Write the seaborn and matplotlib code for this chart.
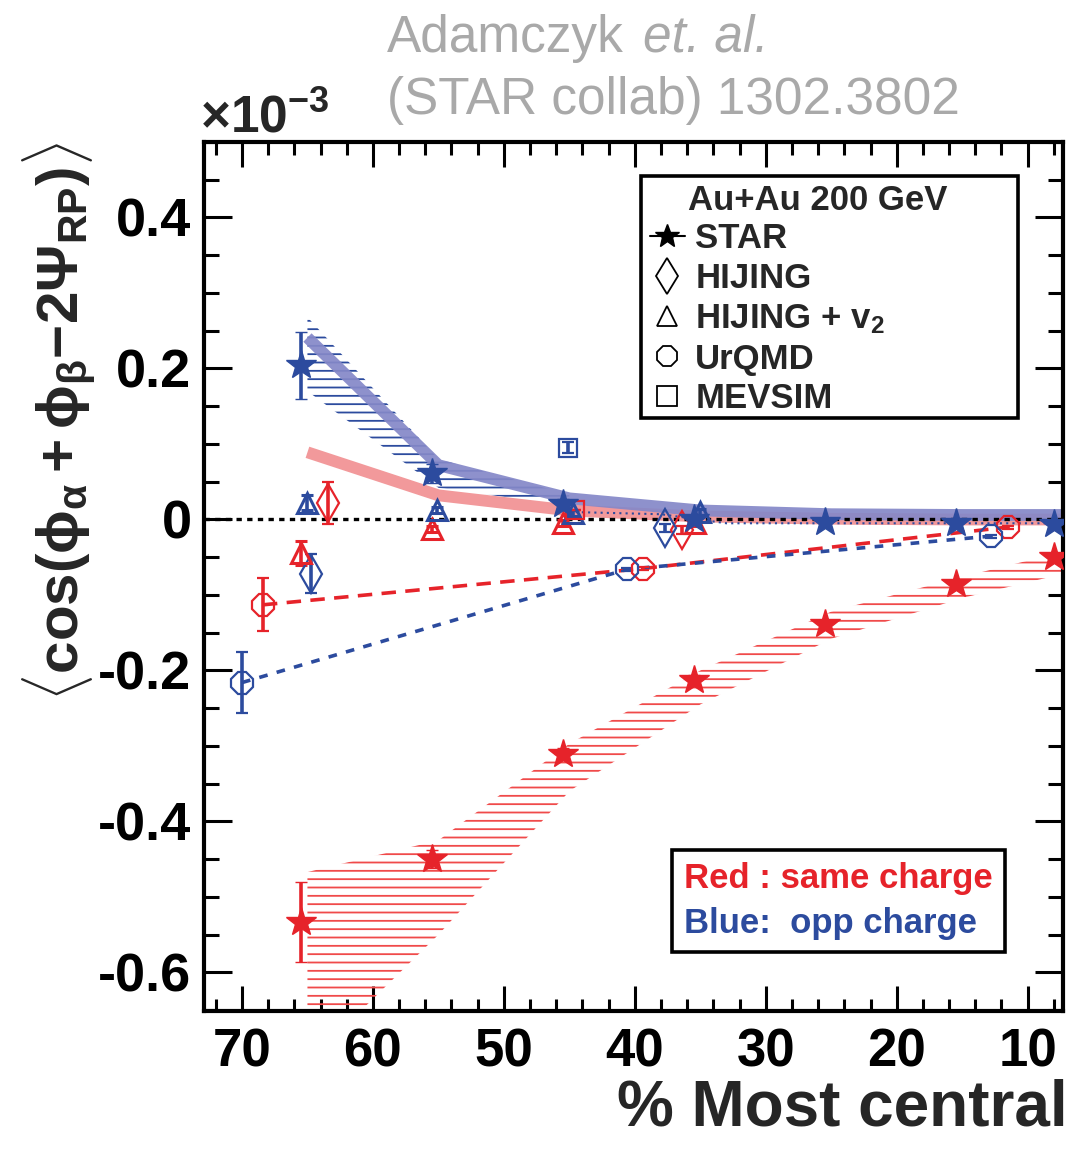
import numpy as np
import pandas as pd
import matplotlib
matplotlib.use("Agg")
import matplotlib.pyplot as plt
import seaborn as sns
from matplotlib.lines import Line2D
from matplotlib.patches import Rectangle
from matplotlib.ticker import MultipleLocator

# ---------------- data (values in units of 1e-3) ----------------
cent_star = [65.5, 55.5, 45.5, 35.5, 25.5, 15.5, 8.0]
star_same = [-0.533, -0.450, -0.311, -0.212, -0.139, -0.085, -0.050]
star_same_err = [0.053, 0.012, 0.008, 0.006, 0.005, 0.004, 0.004]
star_opp = [0.204, 0.061, 0.020, 0.000, -0.003, -0.005, -0.006]
star_opp_err = [0.044, 0.012, 0.007, 0.005, 0.004, 0.004, 0.004]

band_same_x = [65.0, 55.0, 45.0, 35.0, 25.0, 15.0, 7.3]
band_same_hi = [-0.467, -0.425, -0.297, -0.200, -0.122, -0.076, -0.043]
band_same_lo = [-0.720, -0.550, -0.360, -0.245, -0.158, -0.104, -0.072]

band_opp_x = [65.0, 55.0, 45.0]
band_opp_hi = [0.268, 0.080, 0.033]
band_opp_lo = [0.170, 0.042, 0.018]

thick_x = [65.0, 55.0, 45.0, 35.0, 25.0, 15.0, 7.3]
thick_opp = [0.241, 0.072, 0.028, 0.012, 0.007, 0.006, 0.006]
thick_same = [0.089, 0.032, 0.012, 0.004, 0.001, 0.000, 0.000]

dotted_opp_x = [45.0, 38.0, 33.0, 7.3]
dotted_opp_y = [0.010, 0.007, -0.005, -0.005]

urqmd_same_x = [68.4, 39.4, 11.5]
urqmd_same = [-0.113, -0.065, -0.010]
urqmd_same_err = [0.035, 0.002, 0.002]
urqmd_opp_x = [70.0, 40.6, 12.8]
urqmd_opp = [-0.216, -0.066, -0.022]
urqmd_opp_err = [0.040, 0.002, 0.002]

hij_same_x = [63.4, 36.4]
hij_same = [0.022, -0.014]
hij_same_err = [0.028, 0.005]
hij_opp_x = [64.7, 37.7]
hij_opp = [-0.072, -0.011]
hij_opp_err = [0.026, 0.005]

hv2_same_x = [65.5, 55.5, 45.5, 35.4]
hv2_same = [-0.044, -0.012, -0.005, -0.004]
hv2_same_err = [0.016, 0.004, 0.004, 0.004]
hv2_opp_x = [65.0, 55.1, 44.7, 35.0]
hv2_opp = [0.022, 0.012, 0.008, 0.010]
hv2_opp_err = [0.010, 0.004, 0.004, 0.004]

mev_same_x = [44.6]
mev_same = [0.012]
mev_opp_x = [45.1]
mev_opp = [0.095]
mev_opp_err = [0.007]

x_ticks = [70, 60, 50, 40, 30, 20, 10]
y_ticks = [-0.6, -0.4, -0.2, 0.0, 0.2, 0.4]
y_ticklabels = ["-0.6", "-0.4", "-0.2", "0", "0.2", "0.4"]

legend_title = "Au+Au 200 GeV"
legend_labels = ["STAR", "HIJING", "HIJING + v$_2$", "UrQMD", "MEVSIM"]
charge_labels = ["Red : same charge", "Blue:  opp charge"]

# ---------------- style ----------------
sns.set_theme(style="ticks")
plt.rcParams["font.family"] = ["Liberation Sans", "DejaVu Sans"]
plt.rcParams["font.weight"] = "bold"
plt.rcParams["mathtext.fontset"] = "custom"
plt.rcParams["mathtext.rm"] = "Liberation Sans:bold"
plt.rcParams["mathtext.it"] = "Liberation Sans:bold"
plt.rcParams["mathtext.bf"] = "Liberation Sans:bold"
plt.rcParams["mathtext.sf"] = "Liberation Sans:bold"
plt.rcParams["hatch.linewidth"] = 1.3

RED = "#e6232a"
BLUE = "#2c4b9e"
VIOLET = "#8588c8"
PINK = "#f2999b"

fig = plt.figure(figsize=(10.74, 11.52), dpi=100)
L, R, T, B = 204, 1063, 142, 1011
ax = fig.add_axes([L / 1074, 1 - B / 1152, (R - L) / 1074, (B - T) / 1152])
ax.set_facecolor("white")

def ax_x(px):
    return (px - L) / (R - L)

def ax_y(py):
    return (B - py) / (B - T)

# hatched systematic bands
ax.fill_between(band_same_x, band_same_lo, band_same_hi, facecolor="none",
                edgecolor="#f04a4a", hatch="--", linewidth=0, zorder=1)
ax.fill_between(band_opp_x, band_opp_lo, band_opp_hi, facecolor="none",
                edgecolor=BLUE, hatch="--", linewidth=0, zorder=1)

# thick bands
thick_df = pd.DataFrame({"x": thick_x, "opp": thick_opp, "same": thick_same})
sns.lineplot(data=thick_df, x="x", y="same", ax=ax, color=PINK, lw=8.5,
             sort=False, estimator=None, solid_capstyle="butt", zorder=2)
sns.lineplot(data=thick_df, x="x", y="opp", ax=ax, color=VIOLET, lw=8.5,
             alpha=0.92, sort=False, estimator=None, solid_capstyle="butt", zorder=2)

# zero line
ax.axhline(0, color="black", lw=2.4, ls=(0, (1.6, 1.6)), zorder=2.5)

# thin dotted blue line
sns.lineplot(x=dotted_opp_x, y=dotted_opp_y, ax=ax, color=BLUE, lw=1.5,
             ls=(0, (1, 2)), sort=False, estimator=None, zorder=2.6)

# UrQMD dashed lines
sns.lineplot(x=urqmd_same_x, y=urqmd_same, ax=ax, color=RED, lw=2.6,
             ls=(0, (4, 2.6)), sort=False, estimator=None, zorder=3)
sns.lineplot(x=urqmd_opp_x, y=urqmd_opp, ax=ax, color=BLUE, lw=2.6,
             ls=(0, (2.4, 2.6)), sort=False, estimator=None, zorder=3)

def pts(x, y, err, marker, color, ms, filled=False, mew=1.6, z=4):
    ax.errorbar(x, y, yerr=err, fmt=marker, ms=ms, color=color, ecolor=color,
                mfc=color if filled else "none", mec=color, mew=mew,
                elinewidth=2.6, capsize=4, capthick=2.6, zorder=z)

pts(urqmd_same_x, urqmd_same, urqmd_same_err, "8", RED, 16.5)
pts(urqmd_opp_x, urqmd_opp, urqmd_opp_err, "8", BLUE, 16.5)
pts(hij_same_x, hij_same, hij_same_err, "d", RED, 19)
pts(hij_opp_x, hij_opp, hij_opp_err, "d", BLUE, 19)
pts(hv2_same_x, hv2_same, hv2_same_err, "^", RED, 14.5, mew=2.2)
pts(hv2_opp_x, hv2_opp, hv2_opp_err, "^", BLUE, 14.5, mew=2.2)
pts(mev_same_x, mev_same, [0.0], "s", RED, 13)
pts(mev_opp_x, mev_opp, mev_opp_err, "s", BLUE, 13)
pts(cent_star, star_same, star_same_err, "*", RED, 22, filled=True, mew=1, z=5)
pts(cent_star, star_opp, star_opp_err, "*", BLUE, 22, filled=True, mew=1, z=5)

# axes
ax.set_xlim(72.9, 7.3)
ax.set_ylim(-0.651, 0.5)
ax.set_xticks(x_ticks)
ax.set_xticklabels([str(v) for v in x_ticks])
ax.set_yticks(y_ticks)
ax.set_yticklabels(y_ticklabels)
ax.xaxis.set_minor_locator(MultipleLocator(2))
ax.yaxis.set_minor_locator(MultipleLocator(0.05))
ax.tick_params(which="both", direction="in", top=True, right=True, width=2.2,
               colors="black")
ax.tick_params(axis="x", which="major", length=18, labelsize=38, pad=12)
ax.tick_params(axis="y", which="major", length=20, labelsize=39, pad=9)
ax.tick_params(axis="x", which="minor", length=9)
ax.tick_params(axis="y", which="minor", length=10.5)
for lab in ax.get_xticklabels() + ax.get_yticklabels():
    lab.set_fontweight("bold")
for s in ax.spines.values():
    s.set_linewidth(3)
    s.set_color("black")
    s.set_visible(True)

ax.set_xlabel("% Most central", fontsize=46, fontweight="bold", ha="right", va="top")
ax.xaxis.set_label_coords(ax_x(1068), ax_y(1078))
ax.set_ylabel(r"$\langle\cos(\phi_{\alpha}+\phi_{\beta}\mathrm{-}2\Psi_{RP})\rangle$",
              fontsize=42)
ax.yaxis.set_label_coords(ax_x(98), ax_y(422))

# legend 1: frame, title and entries
ax.add_patch(Rectangle((ax_x(641), ax_y(418)), ax_x(1018) - ax_x(641),
                       ax_y(176) - ax_y(418), transform=ax.transAxes,
                       facecolor="white", edgecolor="black", lw=2.6, zorder=6))
ax.text(ax_x(688), ax_y(200), legend_title, transform=ax.transAxes, fontsize=25,
        fontweight="bold", ha="left", va="center", zorder=7)
handles = [
    Line2D([], [], color="black", marker="*", ms=18, lw=1.5),
    Line2D([], [], color="black", marker="d", ms=18, mfc="none", mew=1.3, ls="none"),
    Line2D([], [], color="black", marker="^", ms=15, mfc="none", mew=1.3, ls="none"),
    Line2D([], [], color="black", marker="8", ms=15, mfc="none", mew=1.3, ls="none"),
    Line2D([], [], color="black", marker="s", ms=14, mfc="none", mew=1.3, ls="none"),
]
leg1 = ax.legend(handles, legend_labels, loc="upper left",
                 bbox_to_anchor=(ax_x(650), ax_y(222)), borderaxespad=0,
                 frameon=False, prop={"size": 25, "weight": "bold"},
                 handlelength=1.0, handletextpad=0.3, labelspacing=0.2,
                 borderpad=0)
leg1.set_zorder(7)
ax.add_artist(leg1)

blank = [Line2D([], [], ls="none"), Line2D([], [], ls="none")]
leg2 = ax.legend(blank, charge_labels, loc="lower right",
                 bbox_to_anchor=(ax_x(1005), ax_y(952)),
                 borderaxespad=0, fancybox=False, framealpha=1, edgecolor="black",
                 prop={"size": 25, "weight": "bold"}, labelcolor=[RED, BLUE],
                 handlelength=0, handletextpad=0, labelspacing=0.35, borderpad=0.35)
leg2.get_frame().set_linewidth(2.6)
leg2.set_zorder(7)

# annotations
fig.text(200 / 1074, 1 - 132 / 1152, r"$\times\mathbf{10^{-3}}$", fontsize=37,
         ha="left", va="baseline")
fig.text(387 / 1074, 1 - 52 / 1152, "Adamczyk", fontsize=37, color="#a9a9a9",
         fontweight="normal", ha="left", va="baseline")
fig.text(643 / 1074, 1 - 52 / 1152, "et. al.", fontsize=37, color="#a9a9a9",
         fontweight="normal", style="italic", ha="left", va="baseline")
fig.text(387 / 1074, 1 - 114 / 1152, "(STAR collab) 1302.3802", fontsize=37,
         color="#a9a9a9", fontweight="normal", ha="left", va="baseline")

fig.savefig("out.png", dpi=100, facecolor="white")
